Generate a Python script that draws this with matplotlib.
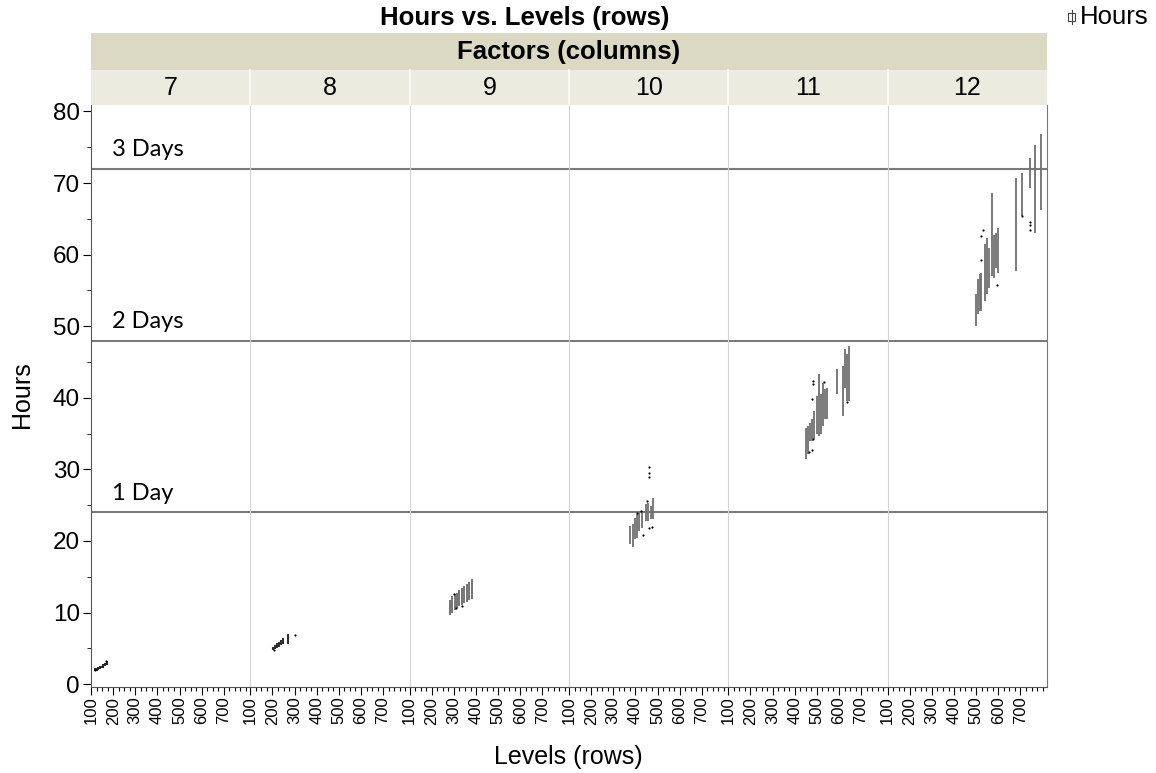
import matplotlib
matplotlib.use("Agg")
import matplotlib.pyplot as plt
from matplotlib.patches import Rectangle
from matplotlib.lines import Line2D
from matplotlib.ticker import MultipleLocator

plt.rcParams['font.family'] = ['Liberation Sans', 'DejaVu Sans']

factors = [7, 8, 9, 10, 11, 12]

# vertical ranges (low..high hours) at each level, per factor
f7_levels = [118, 125, 132, 140, 148, 156, 164, 172]
f7_low = [1.8, 1.9, 2.0, 2.1, 2.2, 2.3, 2.5, 2.7]
f7_high = [2.2, 2.3, 2.4, 2.5, 2.6, 2.8, 3.0, 3.3]

f8_levels = [202, 211, 220, 229, 238, 247, 270]
f8_low = [4.7, 4.9, 5.0, 5.2, 5.4, 5.6, 5.6]
f8_high = [5.2, 5.5, 5.7, 5.9, 6.1, 6.4, 7.0]

f9_levels = [281, 292, 303, 314, 325, 336, 347, 358, 369, 380]
f9_low = [9.7, 10.0, 10.3, 10.6, 10.9, 11.1, 11.3, 11.5, 11.7, 11.9]
f9_high = [11.8, 12.3, 12.6, 12.8, 13.1, 13.4, 13.7, 14.0, 14.3, 14.7]

f10_levels = [375, 389, 398, 407, 416, 430, 448, 457, 470, 479]
f10_low = [19.6, 19.1, 20.3, 20.4, 21.4, 21.8, 22.8, 22.8, 23.0, 23.0]
f10_high = [22.1, 22.3, 23.2, 23.7, 23.9, 24.2, 25.1, 25.3, 24.9, 26.0]

f11_levels = [452, 461, 470, 479, 488, 502, 511, 520, 529, 538, 547, 592, 619, 628, 637, 646]
f11_low = [31.4, 32.1, 33.9, 33.9, 34.2, 34.9, 34.6, 34.9, 36.0, 37.0, 37.0, 40.5, 37.4, 41.3, 39.5, 39.5]
f11_high = [35.8, 36.0, 36.5, 37.0, 38.1, 40.2, 43.3, 40.5, 42.0, 41.2, 41.3, 44.0, 44.4, 46.8, 46.1, 47.2]

f12_levels = [497, 506, 515, 524, 538, 547, 556, 570, 579, 588, 597, 682, 709, 741, 768, 795]
f12_low = [50.0, 51.7, 52.1, 52.1, 53.5, 54.5, 55.3, 57.0, 56.7, 58.1, 57.4, 57.7, 65.4, 69.3, 63.0, 66.2]
f12_high = [54.5, 56.6, 57.3, 57.4, 61.5, 62.3, 60.9, 68.6, 62.8, 63.0, 63.7, 70.7, 71.4, 73.5, 75.3, 76.8]

# single points (outliers)
f7_pt_levels = [120, 170]
f7_pt_hours = [2.0, 3.2]
f8_pt_levels = [205, 300]
f8_pt_hours = [4.8, 6.8]
f9_pt_levels = [299, 308, 335]
f9_pt_hours = [12.6, 10.6, 10.9]
f10_pt_levels = [407, 425, 434, 452, 461, 461, 461, 461, 475]
f10_pt_hours = [23.9, 24.2, 20.8, 25.6, 30.4, 29.5, 28.9, 21.8, 21.9]
f11_pt_levels = [484, 484, 479, 533, 466, 479, 484, 637]
f11_pt_hours = [42.3, 41.9, 39.8, 42.2, 32.4, 32.7, 34.2, 39.4]
f12_pt_levels = [533, 524, 524, 592, 709, 741, 741, 741]
f12_pt_hours = [63.5, 62.6, 59.2, 55.7, 65.4, 64.5, 64.2, 63.4]

ref_hours = [24, 48, 72]
ref_labels = ["1 Day", "2 Days", "3 Days"]
x_ticks = [100, 200, 300, 400, 500, 600, 700]

ranges = [(f7_levels, f7_low, f7_high), (f8_levels, f8_low, f8_high),
          (f9_levels, f9_low, f9_high), (f10_levels, f10_low, f10_high),
          (f11_levels, f11_low, f11_high), (f12_levels, f12_low, f12_high)]
points = [(f7_pt_levels, f7_pt_hours), (f8_pt_levels, f8_pt_hours),
          (f9_pt_levels, f9_pt_hours), (f10_pt_levels, f10_pt_hours),
          (f11_pt_levels, f11_pt_hours), (f12_pt_levels, f12_pt_hours)]
# short ranges render as near-black blobs in the original
range_colors = ['#262626', '#303030', '#6a6a6a', '#707070', '#707070', '#707070']

W, H = 1156, 773
fig = plt.figure(figsize=(W / 100, H / 100), dpi=100)


def fx(px):
    return px / W


def fy(py):
    return 1 - py / H


left, right, top, bottom = 91, 1047, 105, 687
band1, band2 = 33, 70
pw = (right - left) / len(factors)

# header bands
fig.add_artist(Rectangle((fx(left), fy(band2)), fx(right - left), (band2 - band1) / H,
                         transform=fig.transFigure, facecolor='#dbd8c4', edgecolor='none'))
fig.add_artist(Rectangle((fx(left), fy(top)), fx(right - left), (top - band2) / H,
                         transform=fig.transFigure, facecolor='#ecebe0', edgecolor='none'))
fig.text(fx((left + right) / 2), fy(52), "Factors (columns)", ha='center', va='center',
         fontsize=18.5, fontweight='bold')
fig.text(fx(525), fy(18), "Hours vs. Levels (rows)", ha='center', va='center',
         fontsize=18.5, fontweight='bold')

for i, fac in enumerate(factors):
    x0 = left + i * pw
    ax = fig.add_axes([fx(x0), fy(bottom), fx(pw), (bottom - top) / H])
    lv, lo, hi = ranges[i]
    ax.vlines(lv, lo, hi, colors=range_colors[i], linewidth=1.5 if i < 2 else 1.3)
    plv, phr = points[i]
    ax.scatter(plv, phr, s=2.5, color='black', zorder=3, linewidths=0)
    for h in ref_hours:
        ax.axhline(h, color='#7a7a7a', linewidth=1.5, zorder=1)
    ax.set_xlim(100, 820)
    ax.set_ylim(-0.4, 80.9)
    ax.set_xticks(x_ticks)
    ax.set_xticklabels([str(t) for t in x_ticks], rotation=90, fontsize=12)
    ax.xaxis.set_minor_locator(MultipleLocator(25))
    ax.tick_params(axis='x', which='major', length=6, width=0.8, pad=1)
    ax.tick_params(axis='x', which='minor', length=3, width=0.8)
    ax.spines['top'].set_visible(False)
    ax.spines['bottom'].set_color('#555555')
    ax.spines['left'].set_color('#d4d4d4')
    ax.spines['right'].set_visible(False)
    if i == 0:
        ax.spines['left'].set_color('#555555')
        ax.yaxis.set_major_locator(MultipleLocator(10))
        ax.yaxis.set_minor_locator(MultipleLocator(5))
        ax.tick_params(axis='y', which='major', length=6, labelsize=17.5, pad=2)
        ax.tick_params(axis='y', which='minor', length=3)
        for h, lab in zip(ref_hours, ref_labels):
            ax.text(195, h + 1.2, lab, fontsize=17, family=['Lato', 'DejaVu Sans'],
                    ha='left', va='bottom')
    else:
        ax.tick_params(axis='y', which='both', left=False, labelleft=False)
    if i == len(factors) - 1:
        ax.spines['right'].set_visible(True)
        ax.spines['right'].set_color('#777777')
    # factor labels in the second band
    fig.text(fx(x0 + pw / 2), fy(88), str(fac), ha='center', va='center', fontsize=18)
    if i > 0:
        fig.add_artist(Line2D([fx(x0), fx(x0)], [fy(top), fy(band2)], transform=fig.transFigure,
                              color='#f8f8f4', linewidth=1.5))

fig.text(fx(22), fy(395), "Hours", rotation=90, ha='center', va='center', fontsize=18)
fig.text(fx(568), fy(757), "Levels (rows)", ha='center', va='center', fontsize=18)

# legend
fig.add_artist(Rectangle((fx(1068), fy(21)), fx(7), 8 / H, transform=fig.transFigure,
                         facecolor='white', edgecolor='#444444', linewidth=0.8))
fig.add_artist(Line2D([fx(1071.5), fx(1071.5)], [fy(10), fy(24)], transform=fig.transFigure,
                      color='#444444', linewidth=0.8))
fig.text(fx(1080), fy(17), "Hours", ha='left', va='center', fontsize=18.5)

fig.savefig("out.png", dpi=100)
